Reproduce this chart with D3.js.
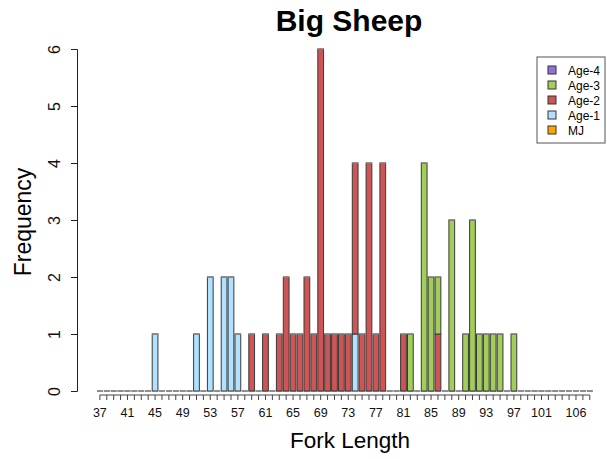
<!DOCTYPE html>
<html>
<head>
<meta charset="utf-8">
<script src="https://cdn.jsdelivr.net/npm/d3@7"></script>
<style>
  body { margin: 0; background: #fff; }
  svg { display: block; font-family: "Liberation Sans", Arial, sans-serif; }
</style>
</head>
<body>
<svg width="607" height="459"></svg>
<script>
// fork lengths 37..108, one stacked bar each
const lengths = d3.range(37, 109);

// counts per age class (length -> frequency), zero elsewhere
const ageMJ = {};
const age1 = { 45: 1, 51: 1, 53: 2, 55: 2, 56: 2, 57: 1, 74: 1 };
const age2 = { 59: 1, 61: 1, 63: 1, 64: 2, 65: 1, 66: 1, 67: 2, 68: 1, 69: 6, 70: 1,
               71: 1, 72: 1, 73: 1, 74: 3, 75: 1, 76: 4, 77: 1, 78: 4, 81: 1, 86: 1 };
const age3 = { 82: 1, 84: 4, 85: 2, 86: 1, 88: 3, 90: 1, 91: 3, 92: 1, 93: 1, 94: 1,
               95: 1, 97: 1 };
const age4 = {};

// stacked bottom to top
const keys = ['MJ', 'Age-1', 'Age-2', 'Age-3', 'Age-4'];
const colors = ['#FFA500', '#B0E2FF', '#CD5555', '#A2CD5A', '#9370DB'];
const legendKeys = ['Age-4', 'Age-3', 'Age-2', 'Age-1', 'MJ'];

// x tick labels that R managed to fit
const shownLabels = [37, 41, 45, 49, 53, 57, 61, 65, 69, 73, 77, 81, 85, 89, 93, 97, 101, 106];
const yTicks = [0, 1, 2, 3, 4, 5, 6];

const table = lengths.map(L => ({
    len: L,
    'MJ': ageMJ[L] || 0,
    'Age-1': age1[L] || 0,
    'Age-2': age2[L] || 0,
    'Age-3': age3[L] || 0,
    'Age-4': age4[L] || 0,
}));

const svg = d3.select('svg');
const color = d3.scaleOrdinal().domain(keys).range(colors);

const x = d3.scaleBand()
    .domain(lengths)
    .range([97, 97 + 6.9 * (lengths.length - 1 / 6)])
    .paddingInner(1 / 6)
    .paddingOuter(0);

const y = d3.scaleLinear().domain([0, 6]).range([391, 49]);

const series = d3.stack().keys(keys)(table);

// BARS

const gBars = svg.append('g');

series.forEach(s => {
    const g = gBars.append('g').attr('fill', color(s.key));
    s.forEach(d => {
        const x0 = x(d.data.len);
        const h = y(d[0]) - y(d[1]);
        if (h > 0) {
            g.append('rect')
                .attr('x', x0)
                .attr('y', y(d[1]))
                .attr('width', x.bandwidth())
                .attr('height', h)
                .attr('stroke', '#3a3a3a')
                .attr('stroke-width', 1);
        } else {
            // empty segment collapses to a flat dash
            g.append('line')
                .attr('x1', x0).attr('x2', x0 + x.bandwidth())
                .attr('y1', y(d[0])).attr('y2', y(d[0]))
                .attr('stroke', '#8a8a8a')
                .attr('stroke-width', 1);
        }
    });
});

// Y AXIS

const yAxis = svg.append('g')
    .attr('transform', 'translate(77,0)')
    .call(d3.axisLeft(y).tickValues(yTicks).tickSize(6).tickFormat(d3.format('d')));

yAxis.select('.domain').attr('stroke', '#222');
yAxis.selectAll('.tick line').attr('stroke', '#222');
yAxis.selectAll('.tick text')
    .attr('font-size', 16)
    .attr('fill', '#111')
    .attr('text-anchor', 'middle')
    .attr('dy', '0')
    .attr('x', 0)
    .attr('y', -17)
    .attr('transform', 'rotate(-90)');

// X AXIS

const xAxis = svg.append('g')
    .attr('transform', 'translate(0,395)')
    .call(d3.axisBottom(x).tickSizeOuter(0).tickSize(5).tickPadding(8)
        .tickFormat(d => shownLabels.includes(d) ? d : ''));

xAxis.select('.domain')
    .attr('stroke', '#444')
    .attr('d', 'M' + (x(37) + x.bandwidth() / 2) + ',0H' + (x(108) + x.bandwidth() / 2));
xAxis.selectAll('.tick line').attr('stroke', '#444');
xAxis.selectAll('.tick text').attr('font-size', 12.5).attr('fill', '#111');

// TITLES

svg.append('text')
    .attr('x', 349).attr('y', 31)
    .attr('text-anchor', 'middle')
    .attr('font-size', 30).attr('font-weight', 'bold')
    .text('Big Sheep');

svg.append('text')
    .attr('x', 350).attr('y', 448)
    .attr('text-anchor', 'middle')
    .attr('font-size', 22.5)
    .text('Fork Length');

svg.append('text')
    .attr('transform', 'translate(31,222) rotate(-90)')
    .attr('text-anchor', 'middle')
    .attr('font-size', 23)
    .text('Frequency');

// LEGEND

const legend = svg.append('g').attr('transform', 'translate(537,57)');

legend.append('rect')
    .attr('width', 68).attr('height', 86)
    .attr('fill', '#fff')
    .attr('stroke', '#555');

legendKeys.forEach((k, i) => {
    const row = legend.append('g').attr('transform', 'translate(0,' + (13 + i * 15) + ')');
    row.append('rect')
        .attr('x', 11).attr('y', -4)
        .attr('width', 8).attr('height', 8)
        .attr('fill', color(k))
        .attr('stroke', '#333');
    row.append('text')
        .attr('x', 31).attr('y', 4.5)
        .attr('font-size', 12)
        .text(k);
});
</script>
</body>
</html>
